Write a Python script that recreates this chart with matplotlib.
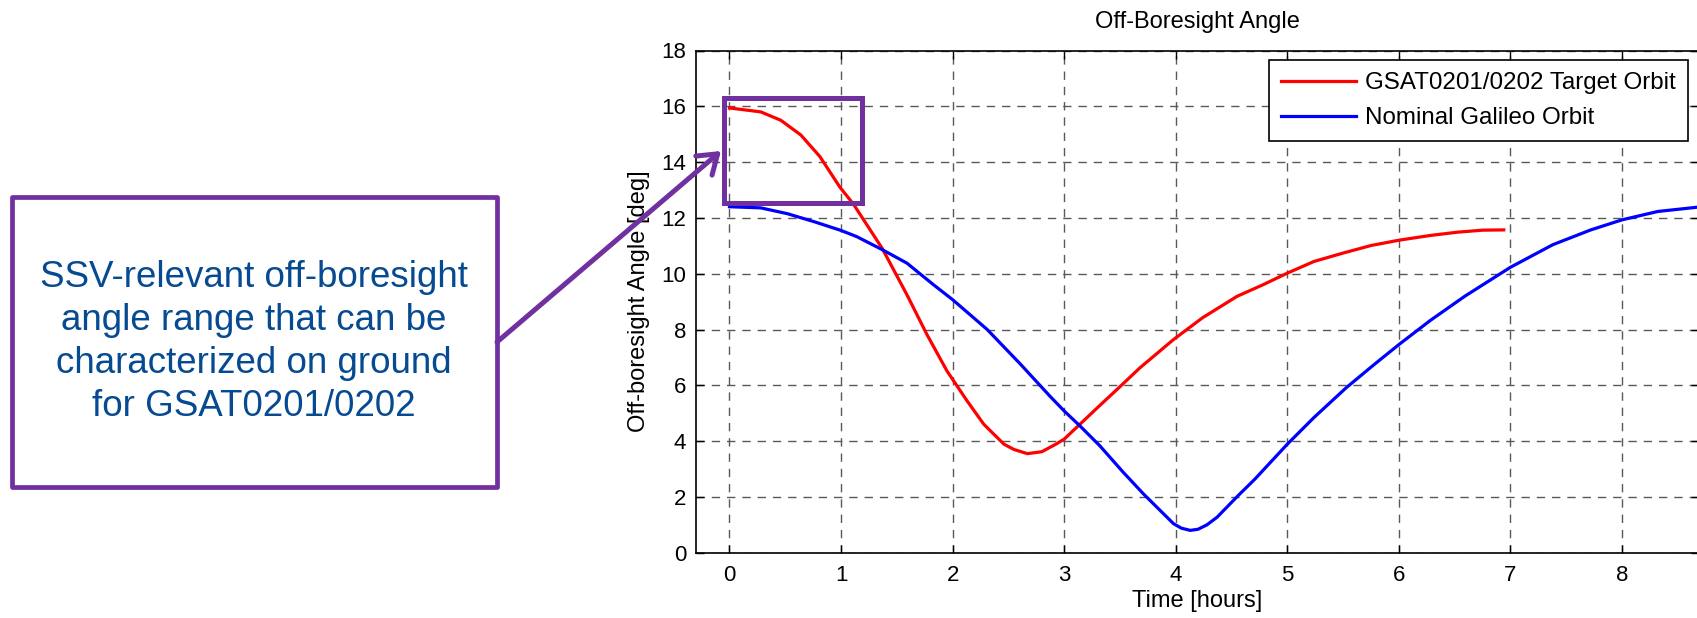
import matplotlib
matplotlib.use("Agg")
import matplotlib.pyplot as plt
from matplotlib.patches import Rectangle

plt.rcParams['font.family'] = ['Liberation Sans', 'DejaVu Sans']

# red: GSAT0201/0202 target orbit
target_t = [0, 0.16, 0.28, 0.46, 0.64, 0.81, 0.99, 1.11, 1.37, 1.59, 1.77, 1.95,
            2.13, 2.28, 2.46, 2.55, 2.67, 2.8, 2.93, 3.0, 3.14, 3.32, 3.5, 3.68, 3.98,
            4.24, 4.55, 4.78, 5.0, 5.24, 5.5, 5.75, 6.0, 6.28, 6.53, 6.75, 6.94]
target_ang = [15.94, 15.86, 15.8, 15.5, 14.97, 14.2, 13.1, 12.5, 10.9, 9.25, 7.82, 6.51,
              5.44, 4.6, 3.89, 3.7, 3.55, 3.62, 3.9, 4.07, 4.6, 5.28, 5.95, 6.63, 7.64,
              8.42, 9.19, 9.6, 10.02, 10.44, 10.74, 11.01, 11.2, 11.37, 11.49, 11.56, 11.57]

# blue: nominal galileo orbit
nominal_t = [0, 0.28, 0.52, 0.77, 1.0, 1.14, 1.37, 1.59, 1.83, 2.0, 2.31, 2.61,
             2.87, 3.0, 3.14, 3.32, 3.53, 3.71, 3.98, 4.05, 4.13, 4.2, 4.28, 4.37, 4.56,
             4.71, 5.0, 5.24, 5.53, 5.78, 6.0, 6.28, 6.59, 7.0, 7.38, 7.72, 8.0, 8.32, 8.69]
nominal_ang = [12.4, 12.36, 12.15, 11.85, 11.55, 11.33, 10.86, 10.38, 9.6, 9.07, 8.0, 6.75,
               5.62, 5.08, 4.55, 3.83, 2.88, 2.11, 1.04, 0.88, 0.8, 0.84, 1.0, 1.27, 2.05,
               2.64, 3.89, 4.85, 5.92, 6.75, 7.46, 8.32, 9.19, 10.23, 11.04, 11.57, 11.93, 12.23, 12.39]

labels = ["GSAT0201/0202 Target Orbit", "Nominal Galileo Orbit"]
xticks = list(range(0, 9))
yticks = list(range(0, 19, 2))

W, H = 1697, 618
purple = '#7030A0'

def fx(px):
    return px / W

def fy(py):
    return 1 - py / H

fig = plt.figure(figsize=(W / 100, H / 100), dpi=100)
ax = fig.add_axes([fx(696), fy(552.7), fx(1699 - 696), (552.7 - 50.5) / H])

ax.plot(target_t, target_ang, color='#FF0000', lw=2.3, label=labels[0])
ax.plot(nominal_t, nominal_ang, color='#0000FF', lw=2.3, label=labels[1])

ax.set_xlim(-0.3, 8.69)
ax.set_ylim(0, 18)
ax.set_xticks(xticks)
ax.set_yticks(yticks)
ax.tick_params(direction='in', length=6, width=1, labelsize=16, top=True, right=True, pad=7)
ax.tick_params(axis='x', pad=9)
for s in ax.spines.values():
    s.set_linewidth(1.2)
ax.grid(True, color='0.35', lw=1, linestyle=(0, (6, 5)))

ax.set_title("Off-Boresight Angle", fontsize=17, pad=16)
ax.set_xlabel("Time [hours]", fontsize=17, labelpad=3)
ax.set_ylabel("Off-boresight Angle [deg]", fontsize=17, labelpad=8)

leg = ax.legend(loc='upper right', bbox_to_anchor=(fx(1688), fy(60)),
                bbox_transform=fig.transFigure, borderaxespad=0, fontsize=17.4,
                fancybox=False, framealpha=1, edgecolor='black',
                handlelength=3.1, handletextpad=0.4, borderpad=0.5, labelspacing=0.55)
leg.get_frame().set_linewidth(1.2)

# highlight box on the chart
ax.add_patch(Rectangle((-0.05, 12.52), 1.24, 3.77, fill=False, edgecolor=purple,
                       lw=3.6, clip_on=False, zorder=5))

# callout box
fig.patches.append(Rectangle((fx(12), fy(487)), fx(497 - 12), (487 - 197) / H,
                             transform=fig.transFigure, fill=False, edgecolor=purple,
                             lw=3.4, joinstyle='round', facecolor='white'))
fig.text(fx(254), fy(342),
         "SSV-relevant off-boresight\nangle range that can be\ncharacterized on ground\nfor GSAT0201/0202",
         ha='center', va='center', multialignment='center', fontsize=26.5,
         color='#064A91', linespacing=1.3)

ax.annotate("", xy=(fx(721), fy(151)), xycoords='figure fraction',
            xytext=(fx(497), fy(342)), textcoords='figure fraction',
            arrowprops=dict(arrowstyle='->,head_length=0.65,head_width=0.45',
                            color=purple, lw=3.6, mutation_scale=20,
                            shrinkA=0, shrinkB=0),
            annotation_clip=False)

fig.savefig("out.png", dpi=100)
